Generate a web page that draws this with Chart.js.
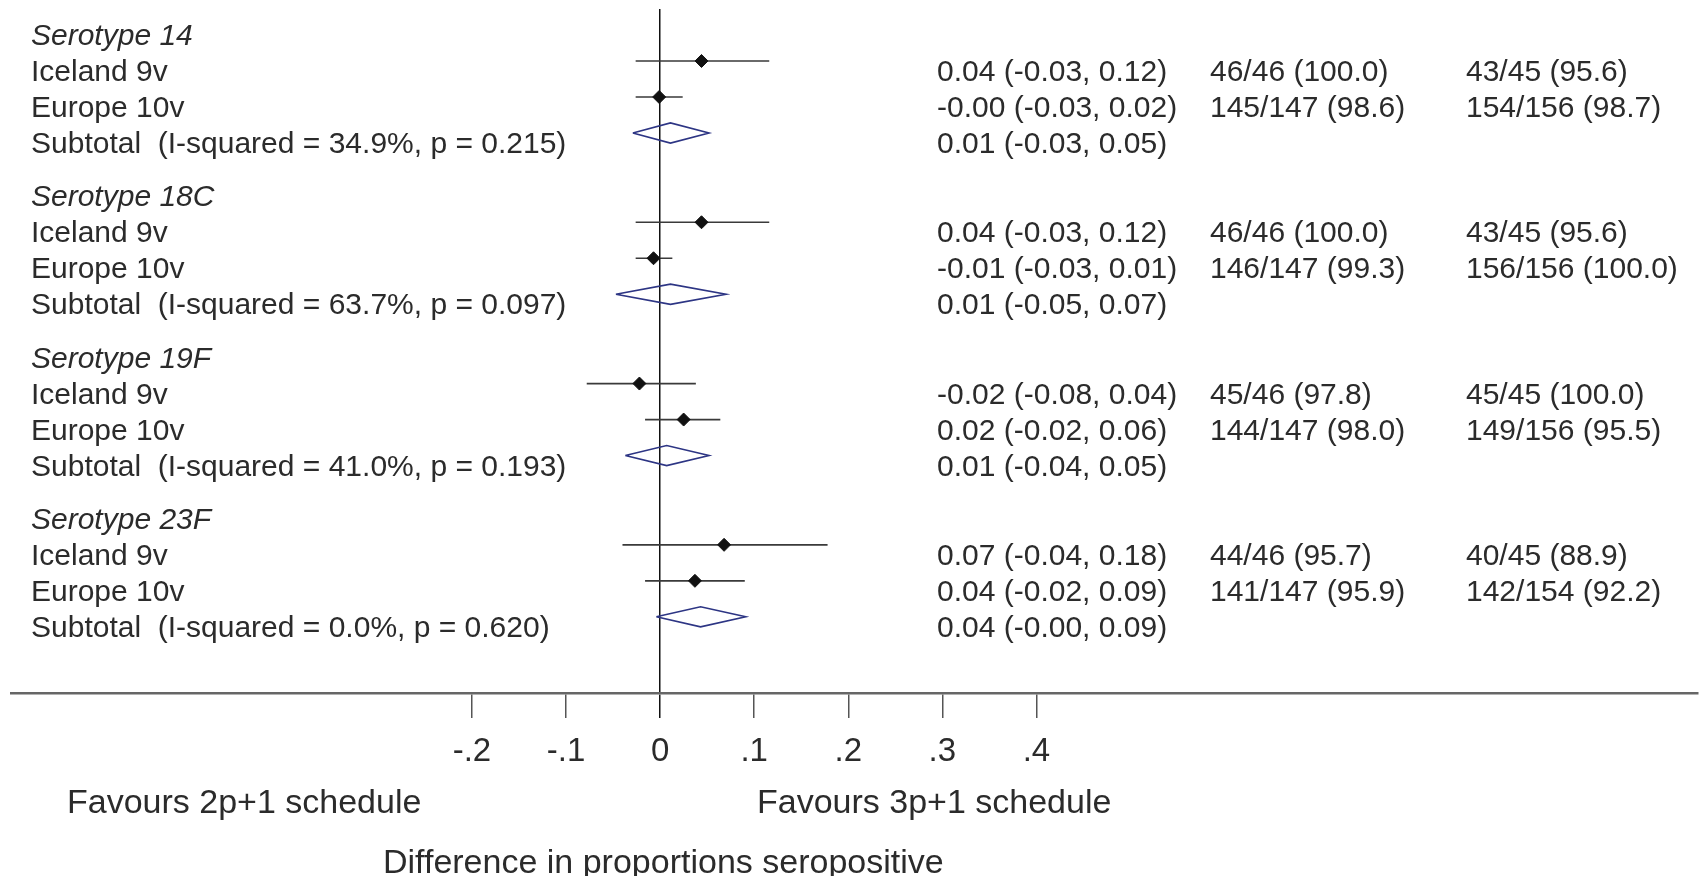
<!DOCTYPE html>
<html>
<head>
<meta charset="utf-8">
<script src="https://cdn.jsdelivr.net/npm/chart.js@4.4.1/dist/chart.umd.min.js"></script>
<style>
  html, body { margin: 0; padding: 0; background: #ffffff; }
  #wrap { width: 1705px; height: 876px; position: relative; }
</style>
</head>
<body>
<div id="wrap"><canvas id="c"></canvas></div>
<script>
// ---------------- data ----------------
const serotypes = ['Serotype 14', 'Serotype 18C', 'Serotype 19F', 'Serotype 23F'];
const studyNames = ['Iceland 9v', 'Europe 10v'];

const icelandEst = [0.044, 0.044, -0.022, 0.068];
const icelandLo  = [-0.026, -0.026, -0.078, -0.040];
const icelandHi  = [0.116, 0.116, 0.038, 0.178];

const europeEst = [-0.001, -0.007, 0.025, 0.037];
const europeLo  = [-0.026, -0.026, -0.016, -0.016];
const europeHi  = [0.024, 0.013, 0.064, 0.090];

const subtotalEst = [0.011, 0.011, 0.007, 0.043];
const subtotalLo  = [-0.029, -0.047, -0.037, -0.004];
const subtotalHi  = [0.052, 0.070, 0.052, 0.091];

const subtotalLabels = [
  'Subtotal  (I-squared = 34.9%, p = 0.215)',
  'Subtotal  (I-squared = 63.7%, p = 0.097)',
  'Subtotal  (I-squared = 41.0%, p = 0.193)',
  'Subtotal  (I-squared = 0.0%, p = 0.620)'
];

const icelandCI  = ['0.04 (-0.03, 0.12)', '0.04 (-0.03, 0.12)', '-0.02 (-0.08, 0.04)', '0.07 (-0.04, 0.18)'];
const europeCI   = ['-0.00 (-0.03, 0.02)', '-0.01 (-0.03, 0.01)', '0.02 (-0.02, 0.06)', '0.04 (-0.02, 0.09)'];
const subtotalCI = ['0.01 (-0.03, 0.05)', '0.01 (-0.05, 0.07)', '0.01 (-0.04, 0.05)', '0.04 (-0.00, 0.09)'];

const iceland2p1 = ['46/46 (100.0)', '46/46 (100.0)', '45/46 (97.8)', '44/46 (95.7)'];
const iceland3p1 = ['43/45 (95.6)', '43/45 (95.6)', '45/45 (100.0)', '40/45 (88.9)'];
const europe2p1  = ['145/147 (98.6)', '146/147 (99.3)', '144/147 (98.0)', '141/147 (95.9)'];
const europe3p1  = ['154/156 (98.7)', '156/156 (100.0)', '149/156 (95.5)', '142/154 (92.2)'];

const tickValues = [-0.2, -0.1, 0, 0.1, 0.2, 0.3, 0.4];
const tickLabels = ['-.2', '-.1', '0', '.1', '.2', '.3', '.4'];

const favoursLabels = ['Favours 2p+1 schedule', 'Favours 3p+1 schedule'];
const xAxisTitle = 'Difference in proportions seropositive';

// ---------------- layout constants ----------------
const GROUP_SPAN = 4.48;       // rows per serotype block
const DIAMOND_HALF = 0.28;     // diamond half-height in row units
const FONT = '"Liberation Sans", Arial, sans-serif';
const TEXT_COLOR = '#2b2b2b';

function rowOf(g, r) { return g * GROUP_SPAN + r; }

// ---------------- datasets ----------------
const pointData = [];
const ciData = [];
const diamondData = [];
serotypes.forEach((s, g) => {
  pointData.push({ x: icelandEst[g], y: rowOf(g, 1) });
  pointData.push({ x: europeEst[g], y: rowOf(g, 2) });

  ciData.push({ x: icelandLo[g], y: rowOf(g, 1) }, { x: icelandHi[g], y: rowOf(g, 1) }, { x: null, y: null });
  ciData.push({ x: europeLo[g], y: rowOf(g, 2) }, { x: europeHi[g], y: rowOf(g, 2) }, { x: null, y: null });

  const r = rowOf(g, 3);
  diamondData.push(
    { x: subtotalLo[g], y: r },
    { x: subtotalEst[g], y: r - DIAMOND_HALF },
    { x: subtotalHi[g], y: r },
    { x: subtotalEst[g], y: r + DIAMOND_HALF },
    { x: subtotalLo[g], y: r },
    { x: null, y: null }
  );
});

// ---------------- text plugin ----------------
const forestText = {
  id: 'forestText',
  afterDraw(chart) {
    const { ctx } = chart;
    const y = chart.scales.y;
    const o = chart.options.plugins.forestText;
    ctx.save();
    ctx.fillStyle = TEXT_COLOR;
    ctx.textAlign = 'left';
    ctx.textBaseline = 'alphabetic';
    const put = (txt, x, row, font) => {
      ctx.font = font;
      ctx.fillText(txt, x, y.getPixelForValue(row) + o.textDy);
    };
    const body = o.bodySize + 'px ' + FONT;
    const ital = 'italic ' + o.bodySize + 'px ' + FONT;
    serotypes.forEach((s, g) => {
      put(s, o.labelX, rowOf(g, 0), ital);
      put(studyNames[0], o.labelX, rowOf(g, 1), body);
      put(studyNames[1], o.labelX, rowOf(g, 2), body);
      put(subtotalLabels[g], o.labelX, rowOf(g, 3), body);

      put(icelandCI[g], o.col1X, rowOf(g, 1), body);
      put(europeCI[g], o.col1X, rowOf(g, 2), body);
      put(subtotalCI[g], o.col1X, rowOf(g, 3), body);

      put(iceland2p1[g], o.col2X, rowOf(g, 1), body);
      put(europe2p1[g], o.col2X, rowOf(g, 2), body);
      put(iceland3p1[g], o.col3X, rowOf(g, 1), body);
      put(europe3p1[g], o.col3X, rowOf(g, 2), body);
    });
    // bottom annotations
    ctx.font = o.bottomSize + 'px ' + FONT;
    ctx.fillText(favoursLabels[0], o.fav1X, o.favY);
    ctx.fillText(favoursLabels[1], o.fav2X, o.favY);
    ctx.fillText(xAxisTitle, o.titleX, o.titleY);
    ctx.restore();
  }
};

// ---------------- chart ----------------
const X_MIN = -0.68995, X_MAX = 1.10265;
const Y_MIN = -0.444, Y_MAX = 18.556;

new Chart(document.getElementById('c'), {
  type: 'scatter',
  data: {
    datasets: [
      {
        label: 'Study estimate',
        data: pointData,
        pointStyle: 'rectRot',
        pointRadius: 6.5,
        pointBackgroundColor: '#111111',
        pointBorderColor: '#111111',
        pointBorderWidth: 1,
        showLine: false
      },
      {
        label: 'Confidence interval',
        data: ciData,
        showLine: true,
        spanGaps: false,
        borderColor: '#3a3a3a',
        borderWidth: 1.7,
        pointRadius: 0,
        tension: 0
      },
      {
        label: 'Subtotal',
        data: diamondData,
        showLine: true,
        spanGaps: false,
        borderColor: '#2d3584',
        borderWidth: 1.6,
        pointRadius: 0,
        fill: false,
        tension: 0
      }
    ]
  },
  options: {
    responsive: true,
    maintainAspectRatio: false,
    animation: false,
    layout: { padding: { left: 11, right: 0, top: 9, bottom: 0 } },
    plugins: {
      legend: { display: false },
      tooltip: { enabled: false },
      forestText: {
        labelX: 31, col1X: 937, col2X: 1210, col3X: 1466,
        bodySize: 30, textDy: 20,
        bottomSize: 34,
        fav1X: 67, fav2X: 757, favY: 813,
        titleX: 383, titleY: 873
      }
    },
    scales: {
      x: {
        type: 'linear',
        min: X_MIN,
        max: X_MAX,
        afterBuildTicks: (s) => { s.ticks = tickValues.map(v => ({ value: v })); },
        afterFit: (s) => { s.height = 183; },
        ticks: {
          autoSkip: false,
          maxRotation: 0,
          padding: 14,
          color: TEXT_COLOR,
          font: { family: FONT, size: 33 },
          callback: (v, i) => tickLabels[i]
        },
        grid: {
          color: (c) => (c.tick && c.tick.value === 0 ? '#111111' : 'rgba(0,0,0,0)'),
          lineWidth: 1.5,
          tickLength: 25,
          tickColor: (c) => (c.tick && c.tick.value === 0 ? '#111111' : '#555555'),
          tickWidth: 1.5,
          drawOnChartArea: true,
          drawTicks: true
        },
        border: { display: true, color: '#666666', width: 2.5 }
      },
      y: {
        type: 'linear',
        reverse: true,
        min: Y_MIN,
        max: Y_MAX,
        display: false
      }
    }
  },
  plugins: [forestText]
});
</script>
</body>
</html>
